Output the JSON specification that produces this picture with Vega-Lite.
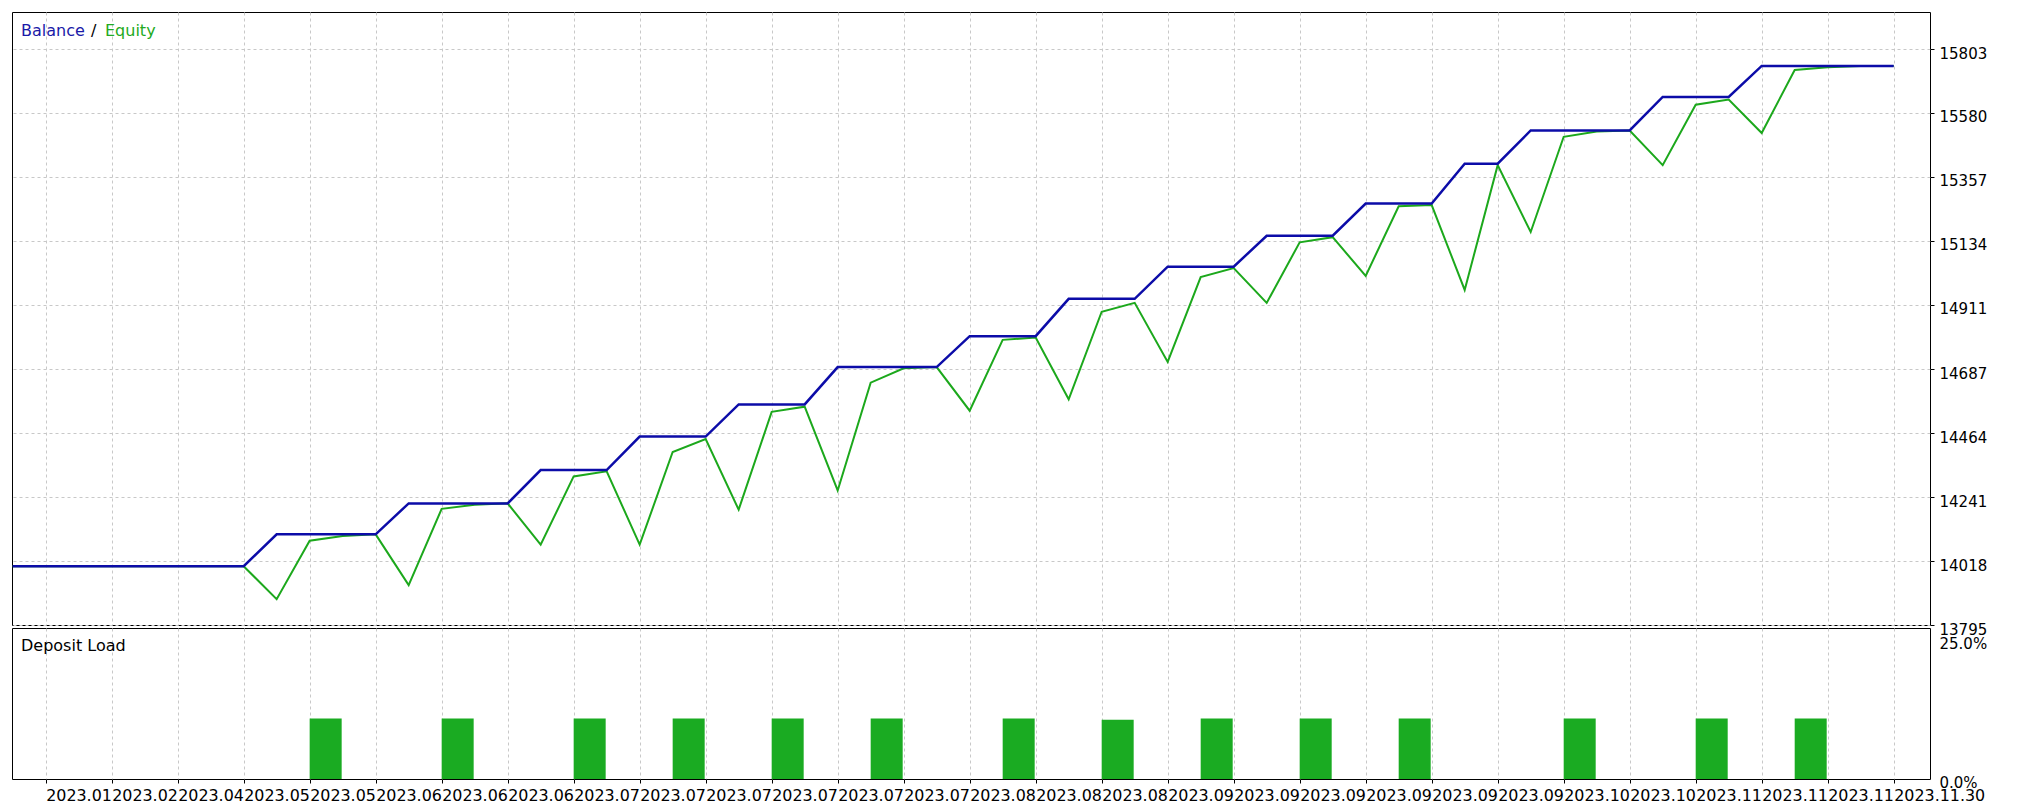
{
  "$schema": "https://vega.github.io/schema/vega-lite/v6.json",
  "background": "white",
  "padding": {"left": 7, "top": 11, "right": 0, "bottom": 0},
  "spacing": 3,
  "bounds": "flush",
  "config": {
    "view": {"stroke": "black", "strokeWidth": 1},
    "font": "DejaVu Sans",
    "axis": {"labelFont": "DejaVu Sans", "labelFontSize": 15, "labelColor": "black", "gridColor": "#c8c8c8", "gridDash": [3, 3], "gridWidth": 1, "title": null}
  },
  "datasets": {
    "curve": [
      {"i": 0, "balance": 14000, "equity": 14000},
      {"i": 1, "balance": 14000, "equity": 14000},
      {"i": 2, "balance": 14000, "equity": 14000},
      {"i": 3, "balance": 14000, "equity": 14000},
      {"i": 4, "balance": 14000, "equity": 14000},
      {"i": 5, "balance": 14000, "equity": 14000},
      {"i": 6, "balance": 14000, "equity": 14000},
      {"i": 7, "balance": 14000, "equity": 14000},
      {"i": 8, "balance": 14111, "equity": 13885},
      {"i": 9, "balance": 14111, "equity": 14089},
      {"i": 10, "balance": 14111, "equity": 14105},
      {"i": 11, "balance": 14111, "equity": 14111},
      {"i": 12, "balance": 14219, "equity": 13934},
      {"i": 13, "balance": 14219, "equity": 14200},
      {"i": 14, "balance": 14219, "equity": 14214},
      {"i": 15, "balance": 14219, "equity": 14219},
      {"i": 16, "balance": 14335, "equity": 14075},
      {"i": 17, "balance": 14335, "equity": 14313},
      {"i": 18, "balance": 14335, "equity": 14331},
      {"i": 19, "balance": 14452, "equity": 14075},
      {"i": 20, "balance": 14452, "equity": 14398},
      {"i": 21, "balance": 14452, "equity": 14443},
      {"i": 22, "balance": 14564, "equity": 14197},
      {"i": 23, "balance": 14564, "equity": 14538},
      {"i": 24, "balance": 14564, "equity": 14556},
      {"i": 25, "balance": 14694, "equity": 14264},
      {"i": 26, "balance": 14694, "equity": 14640},
      {"i": 27, "balance": 14694, "equity": 14690},
      {"i": 28, "balance": 14694, "equity": 14694},
      {"i": 29, "balance": 14802, "equity": 14542},
      {"i": 30, "balance": 14802, "equity": 14789},
      {"i": 31, "balance": 14802, "equity": 14797},
      {"i": 32, "balance": 14932, "equity": 14582},
      {"i": 33, "balance": 14932, "equity": 14887},
      {"i": 34, "balance": 14932, "equity": 14918},
      {"i": 35, "balance": 15044, "equity": 14712},
      {"i": 36, "balance": 15044, "equity": 15008},
      {"i": 37, "balance": 15044, "equity": 15039},
      {"i": 38, "balance": 15152, "equity": 14918},
      {"i": 39, "balance": 15152, "equity": 15129},
      {"i": 40, "balance": 15152, "equity": 15147},
      {"i": 41, "balance": 15264, "equity": 15012},
      {"i": 42, "balance": 15264, "equity": 15255},
      {"i": 43, "balance": 15264, "equity": 15259},
      {"i": 44, "balance": 15403, "equity": 14963},
      {"i": 45, "balance": 15403, "equity": 15398},
      {"i": 46, "balance": 15519, "equity": 15165},
      {"i": 47, "balance": 15519, "equity": 15497},
      {"i": 48, "balance": 15519, "equity": 15515},
      {"i": 49, "balance": 15519, "equity": 15519},
      {"i": 50, "balance": 15636, "equity": 15398},
      {"i": 51, "balance": 15636, "equity": 15609},
      {"i": 52, "balance": 15636, "equity": 15627},
      {"i": 53, "balance": 15744, "equity": 15510},
      {"i": 54, "balance": 15744, "equity": 15730},
      {"i": 55, "balance": 15744, "equity": 15739},
      {"i": 56, "balance": 15744, "equity": 15744},
      {"i": 57, "balance": 15744, "equity": 15744}
    ],
    "load": [
      {"from": 9, "to": 10, "load": 10.0},
      {"from": 13, "to": 14, "load": 10.0},
      {"from": 17, "to": 18, "load": 10.0},
      {"from": 20, "to": 21, "load": 10.0},
      {"from": 23, "to": 24, "load": 10.0},
      {"from": 26, "to": 27, "load": 10.0},
      {"from": 30, "to": 31, "load": 10.0},
      {"from": 33, "to": 34, "load": 9.8},
      {"from": 36, "to": 37, "load": 10.0},
      {"from": 39, "to": 40, "load": 10.0},
      {"from": 42, "to": 43, "load": 10.0},
      {"from": 47, "to": 48, "load": 10.0},
      {"from": 51, "to": 52, "load": 10.0},
      {"from": 54, "to": 55, "load": 10.0}
    ]
  },
  "vconcat": [
    {
      "width": 1918,
      "height": 613,
      "layer": [
        {
          "data": {"name": "curve"},
          "mark": {"type": "line", "color": "#1ca81c", "strokeWidth": 2},
          "encoding": {
            "x": {
              "field": "i", "type": "quantitative",
              "scale": {"domain": [-0.02, 58.1], "nice": false, "zero": false},
              "axis": {"values": [1,2,3,4,5,6,7,8,9,10,11,12,13,14,15,16,17,18,19,20,21,22,23,24,25,26,27,28,29,30,31,32,33,34,35,36,37,38,39,40,41,42,43,44,45,46,47,48,49,50,51,52,53,54,55,56,57], "grid": true, "labels": false, "ticks": false, "domain": false}
            },
            "y": {
              "field": "equity", "type": "quantitative",
              "scale": {"domain": [13795, 15932], "nice": false, "zero": false},
              "axis": {"orient": "right", "values": [13795, 14018, 14241, 14464, 14687, 14911, 15134, 15357, 15580, 15803], "format": "d", "grid": true, "domain": false, "ticks": true, "tickSize": 4, "tickColor": "black", "labelPadding": 5, "labelBaseline": "alphabetic", "labelOffset": 9, "labelBound": false, "labelOverlap": false, "labelFlush": false}
            }
          }
        },
        {
          "data": {"name": "curve"},
          "mark": {"type": "line", "color": "#0c0ca8", "strokeWidth": 2.5},
          "encoding": {
            "x": {"field": "i", "type": "quantitative"},
            "y": {"field": "balance", "type": "quantitative"}
          }
        },
        {
          "data": {"values": [{}]},
          "mark": {"type": "text", "text": "Balance", "color": "#1a1aa8", "font": "DejaVu Sans", "fontSize": 16, "align": "left", "baseline": "alphabetic", "dx": 9, "dy": 24},
          "encoding": {"x": {"datum": -0.02, "type": "quantitative"}, "y": {"datum": 15932, "type": "quantitative"}}
        },
        {
          "data": {"values": [{}]},
          "mark": {"type": "text", "text": "/", "color": "black", "font": "DejaVu Sans", "fontSize": 16, "align": "left", "baseline": "alphabetic", "dx": 79, "dy": 24},
          "encoding": {"x": {"datum": -0.02, "type": "quantitative"}, "y": {"datum": 15932, "type": "quantitative"}}
        },
        {
          "data": {"values": [{}]},
          "mark": {"type": "text", "text": "Equity", "color": "#22aa22", "font": "DejaVu Sans", "fontSize": 16, "align": "left", "baseline": "alphabetic", "dx": 93, "dy": 24},
          "encoding": {"x": {"datum": -0.02, "type": "quantitative"}, "y": {"datum": 15932, "type": "quantitative"}}
        }
      ]
    },
    {
      "width": 1918,
      "height": 151,
      "layer": [
        {
          "data": {"name": "load"},
          "mark": {"type": "rect", "color": "#1aab22", "x2Offset": -1},
          "encoding": {
            "x": {
              "field": "from", "type": "quantitative",
              "scale": {"domain": [-0.02, 58.1], "nice": false, "zero": false},
              "axis": {"values": [1,2,3,4,5,6,7,8,9,10,11,12,13,14,15,16,17,18,19,20,21,22,23,24,25,26,27,28,29,30,31,32,33,34,35,36,37,38,39,40,41,42,43,44,45,46,47,48,49,50,51,52,53,54,55,56,57], "grid": true, "domain": false, "ticks": true, "tickSize": 4, "tickColor": "black", "labelFontSize": 15.9, "labelAlign": "left", "labelBaseline": "top", "labelPadding": 4, "labelOverlap": false, "labelBound": false, "labelFlush": false,
                "labelExpr": "datum.value % 2 == 1 ? ['2023.01','2023.02','2023.04','2023.05','2023.05','2023.06','2023.06','2023.06','2023.07','2023.07','2023.07','2023.07','2023.07','2023.07','2023.08','2023.08','2023.08','2023.09','2023.09','2023.09','2023.09','2023.09','2023.09','2023.10','2023.10','2023.11','2023.11','2023.11','2023.11.30'][(datum.value - 1) / 2] : ''"}
            },
            "x2": {"field": "to"},
            "y": {
              "field": "load", "type": "quantitative",
              "scale": {"domain": [0, 25], "nice": false},
              "axis": {"orient": "right", "values": [0, 25], "labelExpr": "datum.value == 25 ? '25.0%' : '0.0%'", "grid": false, "domain": false, "ticks": false, "labelPadding": 9, "labelBaseline": "alphabetic", "labelOffset": {"condition": {"test": "datum.value == 25", "value": 20}, "value": 8}, "labelBound": false, "labelOverlap": false, "labelFlush": false}
            },
            "y2": {"datum": 0}
          }
        },
        {
          "data": {"values": [{}]},
          "mark": {"type": "text", "text": "Deposit Load", "color": "black", "font": "DejaVu Sans", "fontSize": 16, "align": "left", "baseline": "alphabetic", "dx": 9, "dy": 23},
          "encoding": {"x": {"datum": -0.02, "type": "quantitative"}, "y": {"datum": 25, "type": "quantitative"}}
        }
      ]
    }
  ]
}
